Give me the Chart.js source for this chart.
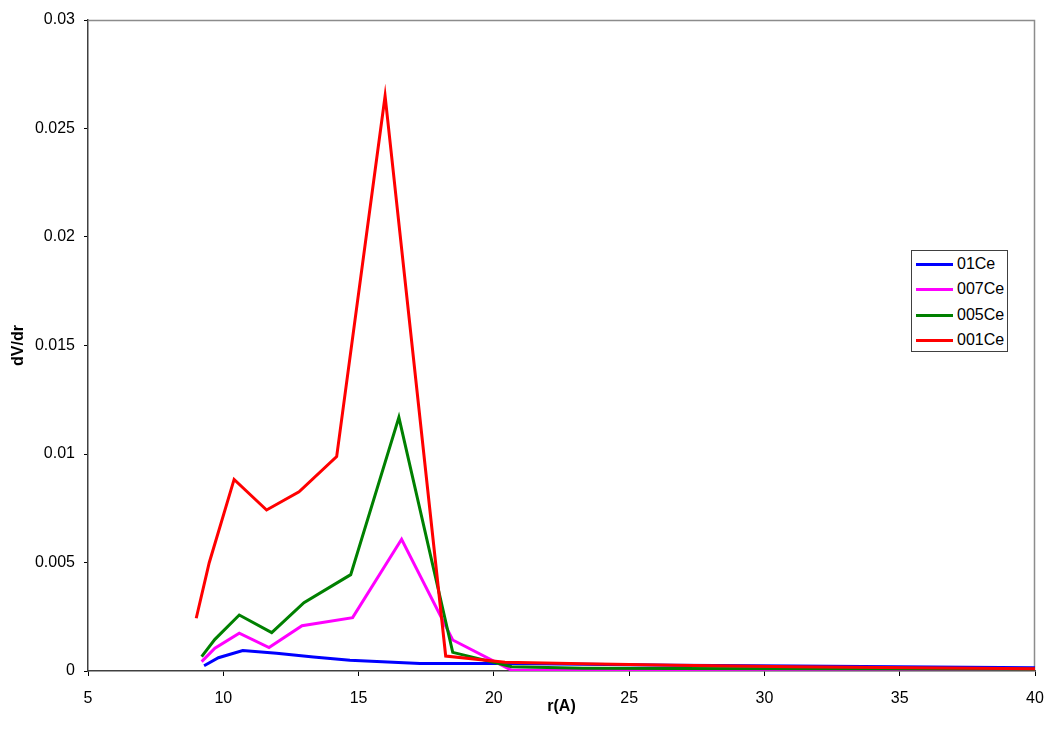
<!DOCTYPE html>
<html>
<head>
<meta charset="utf-8">
<script src="https://cdn.jsdelivr.net/npm/chart.js@4.4.0/dist/chart.umd.min.js"></script>
<style>
  html, body { margin: 0; padding: 0; background: #fff; }
  #wrap { position: relative; width: 1045px; height: 736px; }
  #legend {
    position: absolute; left: 911px; top: 250px; width: 97px; height: 102px;
    border: 1px solid #404040; background: #fff; box-sizing: border-box;
    font-family: 'Liberation Sans', Arial, sans-serif; font-size: 16px; color: #000;
  }
  #legend .item { position: absolute; left: 4px; height: 20px; display: flex; align-items: center; }
  #legend .swatch { width: 37px; height: 3px; margin-right: 4px; }
</style>
</head>
<body>
<div id="wrap">
  <canvas id="c" width="1045" height="736"></canvas>
  <div id="legend"></div>
</div>
<script>
// Pore size distribution dV/dr versus pore radius r(Å)
const seriesNames = ['01Ce', '007Ce', '005Ce', '001Ce'];
const seriesColors = ['#0000FF', '#FF00FF', '#008000', '#FF0000'];

const r01Ce = [9.29, 9.82, 10.72, 11.97, 13.33, 14.68, 17.27, 20.5, 23.3, 26.7, 31.1, 40];
const v01Ce = [0.00024, 0.00061, 0.00094, 0.00082, 0.00065, 0.00049, 0.00035, 0.00034, 0.00031, 0.00027, 0.00023, 0.00015];

const r007Ce = [9.2, 9.69, 10.59, 11.69, 12.91, 14.78, 16.59, 18.48, 20.66, 23.3, 26.7, 31.1, 40];
const v007Ce = [0.00043, 0.00105, 0.00174, 0.00108, 0.00209, 0.00246, 0.00607, 0.00143, 0.00003, 0.00003, 0.00003, 0.00003, 0.00002];

const r005Ce = [9.2, 9.69, 10.59, 11.79, 12.98, 14.71, 16.49, 18.48, 20.66, 23.3, 26.7, 31.1, 40];
const v005Ce = [0.00066, 0.00146, 0.00258, 0.00177, 0.00315, 0.00444, 0.01169, 0.00086, 0.0002, 0.00013, 0.00011, 0.0001, 0.00008];

const r001Ce = [9.0, 9.48, 10.40, 11.60, 12.80, 14.19, 15.98, 18.22, 20.41, 23.3, 26.7, 31.1, 40];
const v001Ce = [0.00243, 0.00499, 0.00883, 0.00742, 0.00826, 0.00988, 0.0265, 0.00069, 0.0004, 0.00033, 0.00026, 0.0002, 0.0001];

const xTicks = [5, 10, 15, 20, 25, 30, 35, 40];
const yTicks = [0, 0.005, 0.01, 0.015, 0.02, 0.025, 0.03];

const radii = [r01Ce, r007Ce, r005Ce, r001Ce];
const values = [v01Ce, v007Ce, v005Ce, v001Ce];

const FONT = "'Liberation Sans', Arial, sans-serif";

const datasets = seriesNames.map((name, i) => ({
  label: name,
  data: radii[i].map((r, k) => ({ x: r, y: values[i][k] })),
  borderColor: seriesColors[i],
  backgroundColor: seriesColors[i],
  borderWidth: 3,
  pointRadius: 0,
  tension: 0,
  fill: false,
  order: seriesNames.length - 1 - i
}));

// light frame on the top and right edges of the plot area
const frame = {
  id: 'frame',
  beforeDatasetsDraw(chart) {
    const { ctx, chartArea: a } = chart;
    ctx.save();
    ctx.strokeStyle = '#8c8c8c';
    ctx.lineWidth = 1.5;
    ctx.beginPath();
    ctx.moveTo(a.left, a.top + 0.5);
    ctx.lineTo(a.right - 0.5, a.top + 0.5);
    ctx.lineTo(a.right - 0.5, a.bottom);
    ctx.stroke();
    ctx.restore();
  }
};

const chart = new Chart(document.getElementById('c'), {
  type: 'line',
  data: { datasets },
  plugins: [frame],
  options: {
    responsive: false,
    animation: false,
    clip: true,
    layout: { padding: { top: 20, right: 10, left: 0, bottom: 0 } },
    plugins: { legend: { display: false }, tooltip: { enabled: false } },
    scales: {
      x: {
        type: 'linear',
        min: xTicks[0],
        max: xTicks[xTicks.length - 1],
        afterBuildTicks(scale) { scale.ticks = xTicks.map(v => ({ value: v })); },
        afterFit(scale) { scale.height = 65; scale.paddingRight = 0; },
        grid: { drawOnChartArea: false, tickLength: 5, color: '#000', tickWidth: 1 },
        border: { display: true, color: '#404040', width: 1.5 },
        ticks: { color: '#000', font: { family: FONT, size: 16 }, padding: 13, maxRotation: 0 },
        title: { display: true, text: 'r(A)', color: '#000', font: { family: FONT, size: 16, weight: 'bold' }, padding: { top: 0, bottom: 20 } }
      },
      y: {
        type: 'linear',
        min: yTicks[0],
        max: yTicks[yTicks.length - 1],
        afterBuildTicks(scale) { scale.ticks = yTicks.map(v => ({ value: v })); },
        afterFit(scale) { scale.width = 88; },
        grid: { drawOnChartArea: false, tickLength: 4, color: '#000', tickWidth: 1 },
        border: { display: true, color: '#404040', width: 1.5 },
        ticks: {
          color: '#000', font: { family: FONT, size: 16 }, padding: 9,
          callback: v => String(Number(v.toFixed(3)))
        },
        title: { display: true, text: 'dV/dr', color: '#000', font: { family: FONT, size: 16, weight: 'bold' }, padding: { top: 9, bottom: 0 } }
      }
    }
  }
});

// legend built from the chart's datasets
const legend = document.getElementById('legend');
const rowTops = [3, 28, 54, 79];
chart.data.datasets.forEach((ds, i) => {
  const item = document.createElement('div');
  item.className = 'item';
  item.style.top = rowTops[i] + 'px';
  const sw = document.createElement('span');
  sw.className = 'swatch';
  sw.style.background = ds.borderColor;
  const tx = document.createElement('span');
  tx.textContent = ds.label;
  item.appendChild(sw);
  item.appendChild(tx);
  legend.appendChild(item);
});
</script>
</body>
</html>
